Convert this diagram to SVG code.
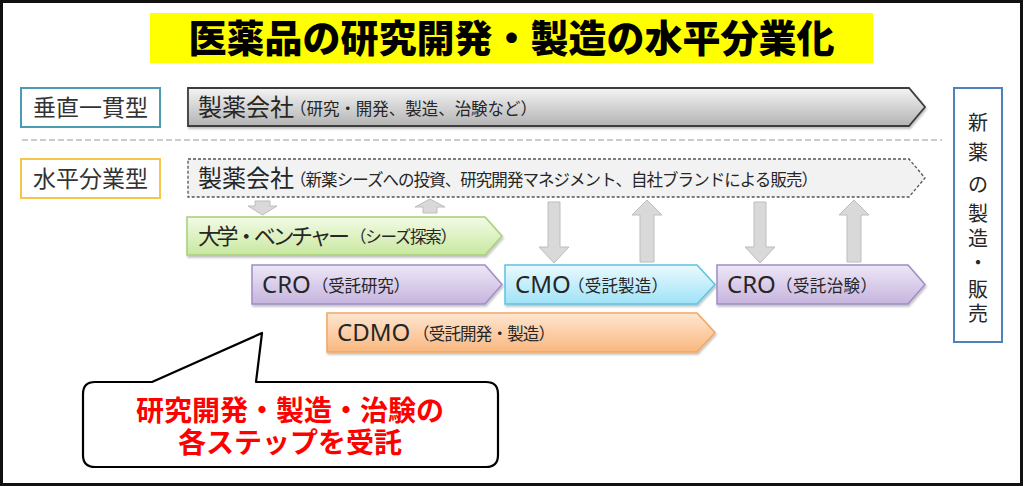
<svg xmlns="http://www.w3.org/2000/svg" width="1024" height="486" viewBox="0 0 1024 486">
<style>
.t{font-family:"Noto Sans","Noto Sans CJK JP",sans-serif;fill:#262626}
.cjk{font-family:"Noto Sans CJK JP",sans-serif;fill:#262626}
.lbl{font-family:"Noto Sans CJK JP",sans-serif;fill:#333;font-size:23px;text-anchor:middle}
.big{font-size:24px}
.sm{font-size:16.5px}
.conn{fill:#d9d9d9;stroke:#bdbdbd;stroke-width:1}
</style>
<defs>
<linearGradient id="gGray" x1="0" y1="0" x2="0" y2="1"><stop offset="0" stop-color="#f4f4f4"/><stop offset="1" stop-color="#b3b3b3"/></linearGradient>
<linearGradient id="gGreen" x1="0" y1="0" x2="0" y2="1"><stop offset="0" stop-color="#f3fbe6"/><stop offset="1" stop-color="#c8e89f"/></linearGradient>
<linearGradient id="gPurple" x1="0" y1="0" x2="0" y2="1"><stop offset="0" stop-color="#eee7f6"/><stop offset="1" stop-color="#c6b4de"/></linearGradient>
<linearGradient id="gCyan" x1="0" y1="0" x2="0" y2="1"><stop offset="0" stop-color="#eaf9fe"/><stop offset="1" stop-color="#9fe3f7"/></linearGradient>
<linearGradient id="gOrange" x1="0" y1="0" x2="0" y2="1"><stop offset="0" stop-color="#fee6d1"/><stop offset="1" stop-color="#f9b77f"/></linearGradient>
<filter id="sh" x="-5%" y="-20%" width="110%" height="150%"><feDropShadow dx="1" dy="2" stdDeviation="1.2" flood-color="#000" flood-opacity="0.25"/></filter>
</defs>

<rect x="1.5" y="1.5" width="1020" height="483" fill="#fff" stroke="#111" stroke-width="3"/>

<g id="title">
<rect x="150" y="13" width="723" height="50" fill="#ffff00"/>
<text x="511.5" y="52" font-family="Noto Sans CJK JP, sans-serif" font-weight="900" font-size="38" text-anchor="middle" fill="#000">医薬品の研究開発・製造の水平分業化</text>
</g>

<g id="label-vertical">
<rect x="21" y="88" width="139" height="39" fill="#fff" stroke="#4b9bb2" stroke-width="2"/>
<text class="lbl" x="90.5" y="116">垂直一貫型</text>
</g>

<g id="label-horizontal">
<rect x="21" y="159" width="139" height="39" fill="#fff" stroke="#f7c548" stroke-width="2"/>
<text class="lbl" x="90.5" y="187">水平分業型</text>
</g>

<line x1="22" y1="140" x2="942" y2="140" stroke="#9a9a9a" stroke-width="1.2" stroke-dasharray="6 3"/>

<g id="pharma-vertical">
<polygon points="188,88 909,88 925,107 909,126 188,126" fill="url(#gGray)" stroke="#3c3c3c" stroke-width="1.8" filter="url(#sh)"/>
<text class="cjk big" x="198" y="116">製薬会社</text>
<text class="cjk sm" x="290" y="115" textLength="247" lengthAdjust="spacing">（研究・開発、製造、治験など）</text>
</g>

<g id="pharma-horizontal">
<polygon points="188,159 909,159 925,178 909,197 188,197" fill="#f2f2f2" stroke="#555" stroke-width="1.3" stroke-dasharray="3 2"/>
<text class="cjk big" x="198" y="187">製薬会社</text>
<text class="cjk sm" x="290" y="186" textLength="528" lengthAdjust="spacing">（新薬シーズへの投資、研究開発マネジメント、自社ブランドによる販売）</text>
</g>

<g id="univ">
<polygon points="187,217 485,217 502,236 485,255 187,255" fill="url(#gGreen)" stroke="#a6d07a" stroke-width="1.5" filter="url(#sh)"/>
<text class="cjk" font-size="22" x="198" y="244" textLength="152" lengthAdjust="spacing">大学・ベンチャー</text>
<text class="cjk sm" x="350" y="243" textLength="107" lengthAdjust="spacing">（シーズ探索）</text>
</g>

<g id="cro-research">
<polygon points="252,265 485,265 502,284.5 485,304 252,304" fill="url(#gPurple)" stroke="#a08dc6" stroke-width="1.5" filter="url(#sh)"/>
<text class="t big" x="262" y="293">CRO</text>
<text class="cjk sm" x="312" y="292" textLength="98" lengthAdjust="spacing">（受託研究）</text>
</g>

<g id="cmo">
<polygon points="505,265 697,265 715,284.5 697,304 505,304" fill="url(#gCyan)" stroke="#5ec3df" stroke-width="1.5" filter="url(#sh)"/>
<text class="t big" x="515" y="293">CMO</text>
<text class="cjk sm" x="568" y="292" textLength="100" lengthAdjust="spacing">（受託製造）</text>
</g>

<g id="cro-trial">
<polygon points="717,265 908,265 925,284.5 908,304 717,304" fill="url(#gPurple)" stroke="#a08dc6" stroke-width="1.5" filter="url(#sh)"/>
<text class="t big" x="727" y="293">CRO</text>
<text class="cjk sm" x="776" y="292" textLength="101" lengthAdjust="spacing">（受託治験）</text>
</g>

<g id="cdmo">
<polygon points="327,313 697,313 715,332.5 697,352 327,352" fill="url(#gOrange)" stroke="#f3a660" stroke-width="1.5" filter="url(#sh)"/>
<text class="t big" x="337" y="341">CDMO</text>
<text class="cjk sm" x="413" y="340" textLength="142" lengthAdjust="spacing">（受託開発・製造）</text>
</g>

<g id="connectors">
<polygon class="conn" points="255,201 270,201 270,206 277,206 262.5,215 248,206 255,206"/>
<polygon class="conn" points="430,199 445,207 437,207 437,213 423,213 423,207 415,207"/>
<polygon class="conn" points="548,202 560,202 560,247 569,247 554,263 539,247 548,247"/>
<polygon class="conn" points="647,200 662,215 654,215 654,262 640,262 640,215 632,215"/>
<polygon class="conn" points="754,202 766,202 766,247 775,247 760,263 745,247 754,247"/>
<polygon class="conn" points="854,200 869,215 861,215 861,262 847,262 847,215 839,215"/>
</g>

<g id="new-drug">
<rect x="954" y="88" width="48" height="254" fill="#fff" stroke="#4f81bd" stroke-width="2"/>
<g class="cjk" font-size="20" text-anchor="middle">
<text x="978" y="130">新</text>
<text x="978" y="160">薬</text>
<text x="978" y="192">の</text>
<text x="978" y="221">製</text>
<text x="978" y="246">造</text>
<text x="978" y="270">・</text>
<text x="978" y="297">販</text>
<text x="978" y="321">売</text>
</g>
</g>

<g id="callout">
<path d="M95,382 L152,382 L262,333 L256,382 L486,382 Q498,382 498,394 L498,455 Q498,467 486,467 L95,467 Q83,467 83,455 L83,394 Q83,382 95,382 Z" fill="#fff" stroke="#000" stroke-width="2.2" stroke-linejoin="round"/>
<g font-family="Noto Sans CJK JP, sans-serif" font-weight="700" font-size="28" fill="#ff0000" text-anchor="middle">
<text x="290" y="421">研究開発・製造・治験の</text>
<text x="290" y="453">各ステップを受託</text>
</g>
</g>
</svg>
